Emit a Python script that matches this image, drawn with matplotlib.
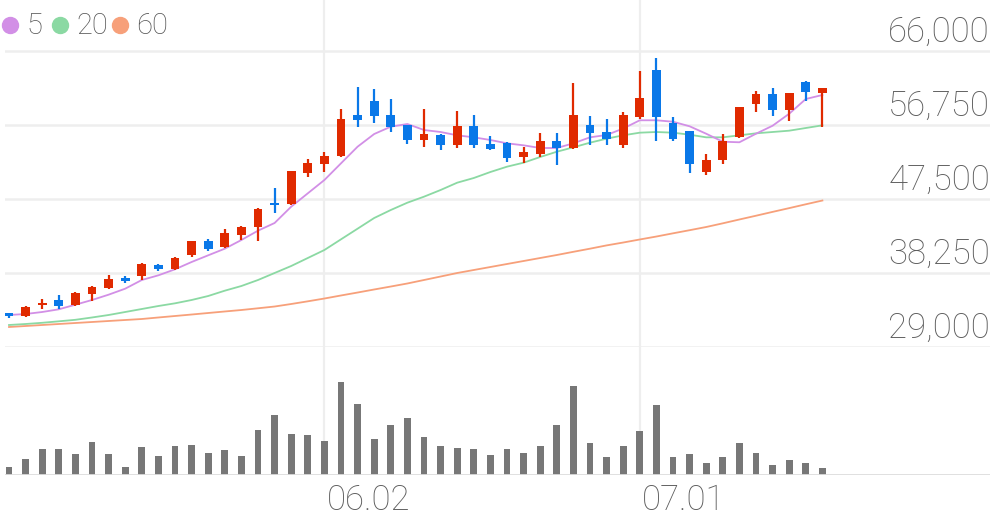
import numpy as np
import matplotlib
matplotlib.use("Agg")
import matplotlib.pyplot as plt
from matplotlib.lines import Line2D
from matplotlib.transforms import offset_copy

plt.rcParams['font.family'] = ['Roboto', 'DejaVu Sans']

# daily candles (open / high / low / close)
opens = [33250, 32875, 34210, 34875, 34250, 35625, 36375, 37590, 37875, 39290,
         38710, 40540, 42250, 41460, 43040, 43960, 46960, 46875, 50710, 51875,
         52875, 58040, 59790, 58040, 56710, 54875, 55540, 54290, 56625, 54375,
         54540, 52790, 53125, 54790, 53875, 56710, 55875, 54210, 57750, 63580,
         57000, 56000, 50830, 52410, 55250, 59410, 60590, 58590, 62080, 60750]
highs = [33250, 34125, 35000, 35540, 35875, 36625, 37960, 37875, 39440, 39340,
         40190, 42250, 42540, 43790, 44125, 46375, 48840, 51000, 52540, 53375,
         58710, 61460, 61210, 59960, 56750, 58790, 55625, 58460, 57960, 55375,
         54625, 54040, 55710, 55710, 61960, 57875, 57460, 58375, 63500, 65080,
         57750, 56060, 53160, 55660, 59060, 61000, 61340, 60810, 62250, 61375]
lows = [32625, 32750, 33750, 33790, 34125, 34750, 36310, 37040, 37375, 38500,
        38625, 40290, 41040, 41375, 42375, 42210, 45710, 46810, 50210, 50875,
        52810, 56460, 57040, 55875, 54375, 53960, 53625, 53875, 53875, 53600,
        52125, 52040, 52710, 51710, 53790, 54290, 54210, 53875, 57500, 54750,
        54750, 50750, 50500, 51910, 55080, 58410, 57910, 57250, 59750, 56500]
closes = [32875, 34000, 34460, 34125, 35790, 36540, 37540, 37290, 39375, 38790,
          40125, 42210, 41290, 43210, 44040, 46290, 46710, 50960, 52040, 52875,
          57540, 57375, 57875, 56540, 54875, 55625, 54290, 56625, 54210, 53710,
          52625, 53375, 54790, 53875, 57960, 55790, 54960, 58040, 60080, 57750,
          55000, 51910, 52410, 54750, 59000, 60590, 58590, 60750, 60840, 61340]

# moving averages as drawn
ma5 = [33000, 33125, 33375, 33710, 34290, 34875, 35540, 36290, 37375, 37960,
       38710, 39625, 40460, 41290, 42375, 43540, 44500, 46540, 48210, 49875,
       51960, 54040, 55625, 56540, 56875, 56125, 55875, 55460, 55210, 54875,
       54460, 54210, 53875, 53875, 54460, 55210, 55500, 56310, 57340, 57340,
       57160, 56590, 55660, 54660, 54590, 55660, 56660, 58160, 60000, 60500]
ma20 = [31750, 31875, 32025, 32210, 32400, 32690, 33000, 33375, 33750, 34125,
        34460, 34875, 35375, 36040, 36625, 37375, 38250, 39125, 40125, 41125,
        42460, 43790, 45125, 46125, 47040, 47790, 48625, 49540, 50125, 50875,
        51540, 52040, 52750, 53410, 53960, 54540, 55040, 55460, 55790, 55875,
        55790, 55540, 55210, 55210, 55460, 55710, 55875, 56040, 56375, 56710]
ma60 = [31500, 31625, 31750, 31875, 32000, 32125, 32250, 32375, 32500, 32690,
        32875, 33060, 33250, 33440, 33625, 33840, 34060, 34375, 34710, 35060,
        35440, 35810, 36190, 36560, 36940, 37375, 37810, 38250, 38625, 39000,
        39375, 39750, 40125, 40500, 40900, 41290, 41700, 42060, 42440, 42810,
        43210, 43600, 44000, 44460, 44940, 45410, 45890, 46360, 46840, 47310]

volume = [80000, 160000, 260000, 260000, 210000, 330000, 210000, 80000, 280000, 190000,
          290000, 300000, 220000, 250000, 190000, 450000, 600000, 410000, 400000, 340000,
          930000, 710000, 360000, 500000, 570000, 380000, 290000, 270000, 260000, 200000,
          260000, 220000, 290000, 500000, 890000, 320000, 180000, 290000, 440000, 700000,
          180000, 210000, 120000, 180000, 320000, 220000, 100000, 150000, 120000, 70000]

price_ticks = [29000, 38250, 47500, 56750, 66000]
date_pos = [19, 38]
date_labels = ['06.02', '07.01']

ma_names = ['5', '20', '60']
ma_colors = ['#d28fe6', '#8bd9a3', '#f7a07a']

up_color = '#e02a00'
down_color = '#0a78e8'
grid_color = '#eeeeee'
text_color = '#5c5c5c'

W, H = 996, 519
fig = plt.figure(figsize=(W / 100, H / 100), dpi=100)

step = 16.6
x0 = 9
left_px, right_px = 5, 990
xlim = ((left_px - x0) / step, (right_px - x0) / step)

ax = fig.add_axes([left_px / W, (H - 347) / H, (right_px - left_px) / W, 347 / H])
axv = fig.add_axes([left_px / W, (H - 475) / H, (right_px - left_px) / W, 128 / H])

idx = np.arange(len(opens))
o = np.array(opens)
c = np.array(closes)
colors = [up_color if cc >= oo else down_color for oo, cc in zip(o, c)]

for a in (ax, axv):
    a.set_xlim(*xlim)
    for s in a.spines.values():
        s.set_visible(False)
    a.set_xticks([])
    a.set_yticks([])
    for p in date_pos:
        a.axvline(p, color=grid_color, lw=1.6, zorder=0)

ax.set_ylim(29000, 72375)
for t in price_ticks:
    ax.axhline(t, color=grid_color, lw=1.8, zorder=0)
    lab = offset_copy(ax.get_yaxis_transform(), fig=fig, x=0, y=9, units='dots')
    ax.text(1.0, t, f'{t:,}', transform=lab, ha='right', va='baseline',
            fontsize=25, color=text_color, fontweight='light')

# moving averages
for vals, col in zip([ma60, ma20, ma5], ma_colors[::-1]):
    ax.plot(idx, vals, color=col, lw=1.3, zorder=2)

# candles
ax.vlines(idx, lows, highs, colors=colors, lw=1.6, zorder=3)
body_lo = np.minimum(o, c)
body_h = np.maximum(np.abs(c - o), 200)
ax.bar(idx, body_h, bottom=body_lo, width=0.52, color=colors, zorder=4)

# volume
axv.set_ylim(0, 1280000)
axv.bar(idx, volume, width=0.4, color='#777777', zorder=2)
axv.axhline(0, color='#dddddd', lw=2, zorder=3)

# date labels sit just right of their gridline
for p, lab in zip(date_pos, date_labels):
    fig.text((left_px + (p - xlim[0]) * step + 2) / W, 1 - 510 / H, lab,
             ha='left', va='baseline', fontsize=25, color=text_color,
             fontweight='light')

# legend
lx = [10, 60, 120]
for x, name, col in zip(lx, ma_names, ma_colors):
    fig.add_artist(Line2D([x / W], [1 - 25 / H], marker='o', markersize=11.5,
                          color=col, transform=fig.transFigure))
    fig.text((x + 16) / W, 1 - 34 / H, name, ha='left', va='baseline',
             fontsize=21, color='#555555', fontweight='light')

fig.savefig('out.png', dpi=100, facecolor='white')
